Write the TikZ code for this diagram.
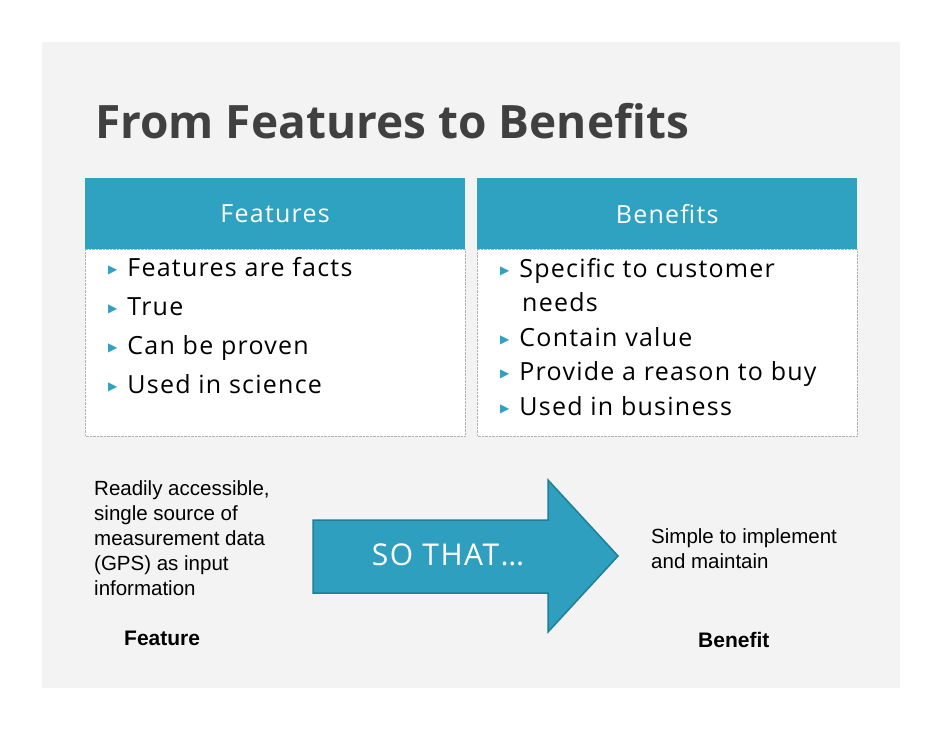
\documentclass[tikz,border=0pt]{standalone}
\usepackage{fontspec}
\setmainfont{Open Sans}
\newfontfamily\wide[LetterSpace=5]{Open Sans}
\newfontfamily\arial{Liberation Sans}
\newfontfamily\dejavu{DejaVu Sans}
\definecolor{hdr}{HTML}{2EA2C0}
\definecolor{arr}{HTML}{2E9FBE}
\definecolor{arrd}{HTML}{1F7E98}
\definecolor{slide}{HTML}{F3F3F3}
\definecolor{ttl}{HTML}{404040}
\tikzset{
  hdrbox/.style={fill=hdr,draw=none,text=white,font=\wide\fontsize{25}{28}\selectfont,anchor=north west,minimum height=71pt,inner sep=0pt},
  bodybox/.style={draw=gray!60,densely dotted,fill=white,anchor=north west,inner sep=0pt},
  bul/.style={anchor=west,align=left,inner sep=0pt},
  small/.style={anchor=north west,align=left,font=\arial\fontsize{20.5}{25}\selectfont,inner sep=0pt},
}
\newcommand{\bl}{\raisebox{3pt}{\textcolor{hdr}{\dejavu\fontsize{12}{12}\selectfont ▶}}\hspace{10pt}}
\begin{document}
\begin{tikzpicture}[x=1pt,y=-1pt]
\useasboundingbox (0,0) rectangle (942,728);
\fill[white] (0,0) rectangle (942,728);
\fill[slide] (42,42) rectangle (900,688);
\node[anchor=west,text=ttl,font=\fontsize{46}{50}\selectfont\bfseries,inner sep=0pt] (title) at (95,121) {From Features to Benefits};
\node[hdrbox,minimum width=380pt] (fh) at (85,178) {Features};
\node[hdrbox,minimum width=380pt] (bh) at (477,178) {Benefits};
\draw[bodybox] (85,249) rectangle (465,436);
\draw[bodybox] (477,249) rectangle (857,436);
\node[bul,font=\wide\fontsize{25}{39}\selectfont] (fl) at (108,326) {\bl Features are facts\\\bl True\\\bl Can be proven\\\bl Used in science};
\node[bul,font=\wide\fontsize{25}{34.5}\selectfont] (bl) at (500,337) {\bl Specific to customer\\\hspace*{22pt}needs\\\bl Contain value\\\bl Provide a reason to buy\\\bl Used in business};
\draw[arrd,fill=arr,line width=1.5pt,line join=miter] (313,520) -- (548,520) -- (548,480) -- (618,556) -- (548,632) -- (548,593) -- (313,593) -- cycle;
\node[text=white,font=\wide\fontsize{30}{34}\selectfont] (so) at (448,555) {SO THAT…};
\node[small] (ft) at (94,480) {Readily accessible,\\single source of\\measurement data\\(GPS) as input\\information};
\node[small] (bt) at (651,528) {Simple to implement\\and maintain};
\node[anchor=west,font=\arial\bfseries\fontsize{21}{24}\selectfont,inner sep=0pt] (fl2) at (124,638) {Feature};
\node[anchor=west,font=\arial\bfseries\fontsize{21}{24}\selectfont,inner sep=0pt] (bl2) at (698,640) {Benefit};
\end{tikzpicture}
\end{document}
